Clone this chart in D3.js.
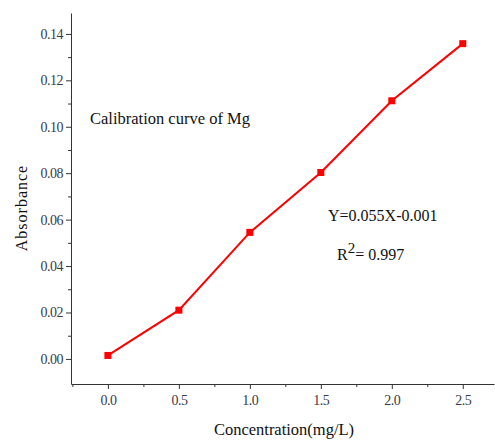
<!DOCTYPE html>
<html>
<head>
<meta charset="utf-8">
<script src="https://cdn.jsdelivr.net/npm/d3@7"></script>
<style>
  body { margin: 0; background: #fff; }
  svg { display: block; font-family: "Liberation Serif", "Times New Roman", serif; }
  .axis path, .axis line { stroke: #333; }
  .axis text { font-family: "Liberation Serif", serif !important; }
</style>
</head>
<body>
<svg id="chart" width="495" height="443"></svg>
<script>
// concentration (mg/L) vs absorbance
const concentration = [0.0, 0.5, 1.0, 1.5, 2.0, 2.5];
const absorbance = [0.0015, 0.021, 0.0545, 0.0803, 0.1112, 0.1358];
const xTicks = [0.0, 0.5, 1.0, 1.5, 2.0, 2.5];
const yTicks = [0.00, 0.02, 0.04, 0.06, 0.08, 0.10, 0.12, 0.14];

const svg = d3.select('#chart');

const x = d3.scaleLinear().domain([-0.26, 2.72]).range([71, 494]);
const y = d3.scaleLinear().domain([-0.0108, 0.149]).range([384, 13]);

// minor ticks first, then majors
const xMinor = d3.range(-0.25, 2.75, 0.25).filter(v => Math.abs(v * 2 - Math.round(v * 2)) > 1e-6);
const yMinor = d3.range(0.01, 0.15, 0.02);

const styleTicks = g => g.selectAll('text')
  .style('font-size', '14px')
  .style('letter-spacing', '-0.5px')
  .style('fill', '#3a3a4a');

svg.append('g')
  .attr('class', 'axis')
  .attr('transform', 'translate(0,384)')
  .call(d3.axisBottom(x).tickValues(xMinor).tickSize(3).tickFormat(''))
  .call(g => g.select('.domain').remove());

svg.append('g')
  .attr('class', 'axis')
  .attr('transform', 'translate(71,0)')
  .call(d3.axisLeft(y).tickValues(yMinor).tickSize(3).tickFormat(''))
  .call(g => g.select('.domain').remove());

svg.append('g')
  .attr('class', 'axis')
  .attr('transform', 'translate(0,384)')
  .call(d3.axisBottom(x).tickValues(xTicks).tickSize(5).tickSizeOuter(0).tickPadding(6).tickFormat(d3.format('.1f')))
  .call(styleTicks);

svg.append('g')
  .attr('class', 'axis')
  .attr('transform', 'translate(71,0)')
  .call(d3.axisLeft(y).tickValues(yTicks).tickSize(5).tickSizeOuter(0).tickPadding(3).tickFormat(d3.format('.2f')))
  .call(styleTicks);

const points = concentration.map((c, i) => [c, absorbance[i]]);

svg.append('path')
  .datum(points)
  .attr('fill', 'none')
  .attr('stroke', '#ff0000')
  .attr('stroke-width', 2)
  .attr('d', d3.line().x(d => x(d[0])).y(d => y(d[1])));

svg.selectAll('rect.pt')
  .data(points)
  .join('rect')
  .attr('class', 'pt')
  .attr('x', d => x(d[0]) - 3.5)
  .attr('y', d => y(d[1]) - 3.5)
  .attr('width', 7)
  .attr('height', 7)
  .attr('fill', '#ff0000');

// axis titles
svg.append('text')
  .attr('x', 284)
  .attr('y', 435)
  .attr('text-anchor', 'middle')
  .style('font-size', '16.5px')
  .style('fill', '#111')
  .text('Concentration(mg/L)');

svg.append('text')
  .attr('transform', 'translate(27,208) rotate(-90)')
  .attr('text-anchor', 'middle')
  .style('font-size', '16px')
  .style('letter-spacing', '1px')
  .style('fill', '#111')
  .text('Absorbance');

// annotations
svg.append('text')
  .attr('x', 90)
  .attr('y', 124)
  .style('font-size', '16.5px')
  .style('fill', '#111')
  .text('Calibration curve of Mg');

svg.append('text')
  .attr('x', 328)
  .attr('y', 221)
  .style('font-size', '16px')
  .style('fill', '#111')
  .text('Y=0.055X-0.001');

const r2 = svg.append('text')
  .attr('x', 337)
  .attr('y', 260)
  .style('font-size', '16px')
  .style('fill', '#111');
r2.append('tspan').text('R');
r2.append('tspan').attr('dy', -7).style('font-size', '15px').text('2');
r2.append('tspan').attr('dy', 7).text('= 0.997');
</script>
</body>
</html>
